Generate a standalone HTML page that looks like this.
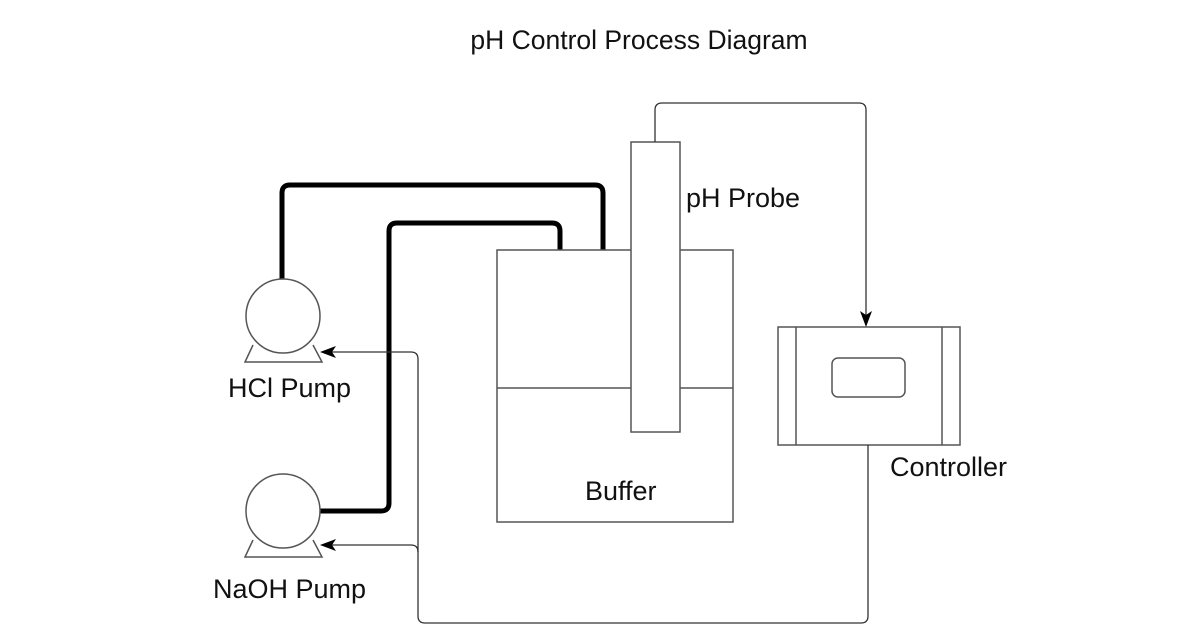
<!DOCTYPE html>
<html><head><style>body{margin:0;background:#fff}</style></head><body>
<svg width="1200" height="630" viewBox="0 0 1200 630" xmlns="http://www.w3.org/2000/svg" font-family="Liberation Sans, sans-serif" fill="none">
<g stroke="#000" stroke-width="5" stroke-linejoin="round">
<path d="M282 279 V193 Q282 185 290 185 H595 Q603 185 603 193 V250"/>
<path d="M320 511 H381 Q389 511 389 503 V231 Q389 223 397 223 H552 Q560 223 560 231 V250"/>
</g>
<g stroke="#555" stroke-width="1.5">
<rect x="497" y="250" width="236" height="272" fill="#fff"/>
<line x1="497" y1="388" x2="733" y2="388"/>
<rect x="631" y="142" width="49" height="290" fill="#fff"/>
<circle cx="283" cy="316" r="37" fill="#fff"/>
<path d="M253 345 L245 362 H322 L313 345"/>
<circle cx="283" cy="511" r="37" fill="#fff"/>
<path d="M253 540 L245 557 H322 L313 540"/>
<rect x="778" y="327" width="182" height="118" fill="#fff"/>
<line x1="796" y1="327" x2="796" y2="445"/>
<line x1="942" y1="327" x2="942" y2="445"/>
<rect x="832" y="358" width="73" height="39" rx="6"/>
</g>
<g stroke="#333" stroke-width="1.3">
<path d="M655 142 V110 Q655 103 662 103 H859 Q866 103 866 110 V318"/>
<path d="M868 445 V616 Q868 623 861 623 H425 Q418 623 418 616 V359 Q418 352 411 352 H328"/>
<path d="M418 552 Q418 545 411 545 H328"/>
</g>
<g fill="#000">
<path d="M866 327 L860 311 L866 315 L872 311 Z"/>
<path d="M320 352 L336 346 L332 352 L336 358 Z"/>
<path d="M320 545 L336 539 L332 545 L336 551 Z"/>
</g>
<g fill="#111" font-size="27">
<text x="639" y="49" text-anchor="middle" font-size="26.5">pH Control Process Diagram</text>
<text x="686" y="207">pH Probe</text>
<text x="228" y="397">HCl Pump</text>
<text x="213" y="598">NaOH Pump</text>
<text x="585" y="500">Buffer</text>
<text x="890" y="476">Controller</text>
</g>
</svg>
</body></html>
